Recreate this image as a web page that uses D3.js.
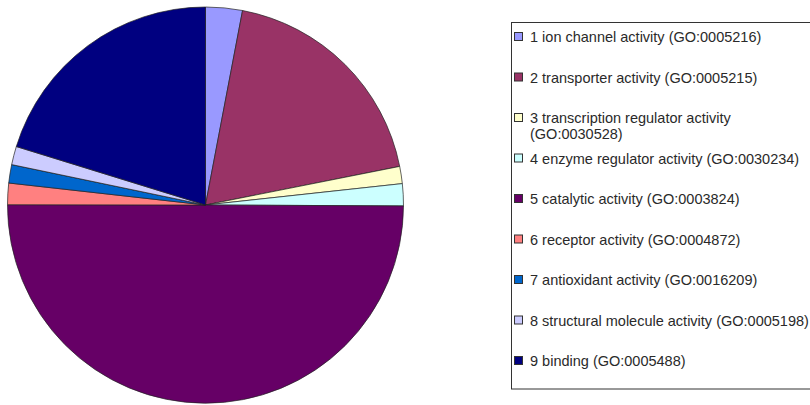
<!doctype html>
<html lang="en">
<head>
  <meta charset="utf-8">
  <title>GO molecular function pie</title>
  <script src="https://cdnjs.cloudflare.com/ajax/libs/d3/7.8.5/d3.min.js"></script>
  <style>
    body { margin: 0; background: #fff; }
    text { font-family: "Liberation Sans", Arial, sans-serif; }
  </style>
</head>
<body>
<svg width="810" height="405" id="svg"></svg>
<script>
  var labels = [
    ['1 ion channel activity (GO:0005216)'],
    ['2 transporter activity (GO:0005215)'],
    ['3 transcription regulator activity', '(GO:0030528)'],
    ['4 enzyme regulator activity (GO:0030234)'],
    ['5 catalytic activity (GO:0003824)'],
    ['6 receptor activity (GO:0004872)'],
    ['7 antioxidant activity (GO:0016209)'],
    ['8 structural molecule activity (GO:0005198)'],
    ['9 binding (GO:0005488)']
  ];
  var values = [3.0, 18.9, 1.4, 1.8, 50.0, 1.75, 1.5, 1.5, 20.25];
  var colors = ['#9999ff', '#993366', '#ffffcc', '#ccffff', '#660066',
                '#ff8080', '#0066cc', '#ccccff', '#000080'];

  var svg = d3.select('#svg');

  var pie = d3.pie().sort(null).value(function(d) { return d; });
  var arc = d3.arc().innerRadius(0).outerRadius(198);

  var g = svg.append('g').attr('transform', 'translate(205.5,205)');
  g.selectAll('path')
    .data(pie(values))
    .enter()
    .append('path')
    .attr('d', arc)
    .attr('fill', function(d, i) { return colors[i]; })
    .attr('stroke', '#222')
    .attr('stroke-width', 0.7);

  // legend
  svg.append('rect')
    .attr('x', 511.5).attr('y', 22.5)
    .attr('width', 320).attr('height', 366.5)
    .attr('fill', '#fff')
    .attr('stroke', '#333')
    .attr('stroke-width', 1);

  var rowY = d3.scaleLinear().domain([0, 8]).range([37, 361]);

  var item = svg.selectAll('.item')
    .data(labels)
    .enter()
    .append('g')
    .attr('class', 'item')
    .attr('transform', function(d, i) { return 'translate(0,' + rowY(i) + ')'; });

  item.append('rect')
    .attr('x', 514.5).attr('y', -4.5)
    .attr('width', 8).attr('height', 8)
    .attr('fill', function(d, i) { return colors[i]; })
    .attr('stroke', '#333')
    .attr('stroke-width', 1);

  item.selectAll('text')
    .data(function(d) { return d; })
    .enter()
    .append('text')
    .attr('x', 530)
    .attr('y', function(d, j) { return j * 15.5 + 5; })
    .attr('font-size', 14.5)
    .attr('fill', '#2a2a2a')
    .text(function(d) { return d; });
</script>
</body>
</html>
